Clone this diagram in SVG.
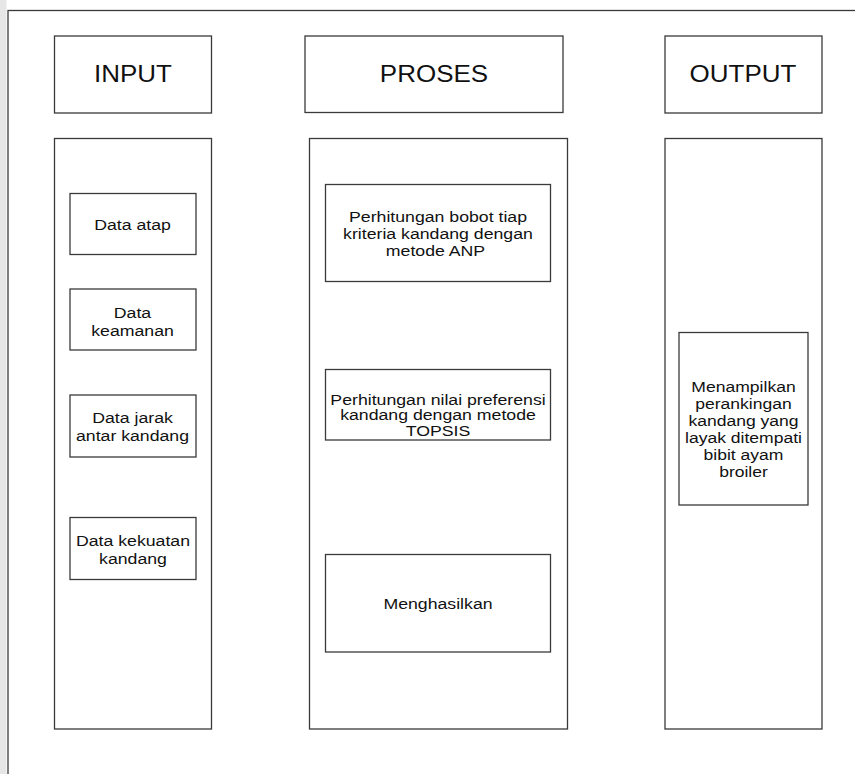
<svg xmlns="http://www.w3.org/2000/svg" width="855" height="774" viewBox="0 0 855 774">
  <style>
    .box { fill: #ffffff; stroke: #3a3a3a; stroke-width: 1.3; }
    .frame { fill: none; stroke: #3a3a3a; stroke-width: 1.3; }
    .hd { font-family: "Liberation Sans", Arial, sans-serif; font-size: 23px; fill: #111; text-anchor: middle; }
    .tx { font-family: "Liberation Sans", Arial, sans-serif; font-size: 15px; fill: #111; text-anchor: middle; }
  </style>
  <rect x="0" y="0" width="855" height="774" fill="#ffffff"/>
  <!-- faint strip along the left edge -->
  <rect x="0" y="0" width="6.5" height="774" fill="#e6e6e6"/>
  <!-- outer frame (continues past the right and bottom edges) -->
  <rect class="frame" x="8" y="10.5" width="860" height="780"/>

  <!-- INPUT column -->
  <g id="input-header">
    <rect class="box" x="54.5" y="36" width="157" height="77"/>
    <text class="hd" transform="matrix(1.13 0 0 1 133 81.5)">INPUT</text>
  </g>
  <g id="input-column">
    <rect class="box" x="54.5" y="138.5" width="157" height="590.5"/>
  </g>
  <g id="data-atap">
    <rect class="box" x="70" y="193.5" width="126" height="61"/>
    <text class="tx" transform="matrix(1.18 0 0 1 132.5 230)">Data atap</text>
  </g>
  <g id="data-keamanan">
    <rect class="box" x="70" y="289" width="126" height="61"/>
    <text class="tx" transform="matrix(1.18 0 0 1 132.5 317.5)">Data</text>
    <text class="tx" transform="matrix(1.18 0 0 1 132.5 335.5)">keamanan</text>
  </g>
  <g id="data-jarak">
    <rect class="box" x="70" y="395" width="126" height="62"/>
    <text class="tx" transform="matrix(1.18 0 0 1 132.5 422.5)">Data jarak</text>
    <text class="tx" transform="matrix(1.18 0 0 1 132.5 440.5)">antar kandang</text>
  </g>
  <g id="data-kekuatan">
    <rect class="box" x="70" y="517.5" width="126" height="62"/>
    <text class="tx" transform="matrix(1.18 0 0 1 133 545.5)">Data kekuatan</text>
    <text class="tx" transform="matrix(1.18 0 0 1 133 564)">kandang</text>
  </g>

  <!-- PROSES column -->
  <g id="proses-header">
    <rect class="box" x="305" y="36" width="258" height="76.5"/>
    <text class="hd" transform="matrix(1.13 0 0 1 434 81.5)">PROSES</text>
  </g>
  <g id="proses-column">
    <rect class="box" x="309.5" y="138.5" width="258" height="590.5"/>
  </g>
  <g id="anp">
    <rect class="box" x="325.5" y="184.5" width="225" height="97"/>
    <text class="tx" transform="matrix(1.18 0 0 1 438 221.5)">Perhitungan bobot tiap</text>
    <text class="tx" transform="matrix(1.18 0 0 1 438 238.5)">kriteria kandang dengan</text>
    <text class="tx" transform="matrix(1.18 0 0 1 435.5 255.5)">metode ANP</text>
  </g>
  <g id="topsis">
    <rect class="box" x="325.5" y="369.5" width="225" height="70.5"/>
    <text class="tx" transform="matrix(1.18 0 0 1 438 404.5)">Perhitungan nilai preferensi</text>
    <text class="tx" transform="matrix(1.18 0 0 1 438 420)">kandang dengan metode</text>
    <text class="tx" transform="matrix(1.18 0 0 1 438 435.5)">TOPSIS</text>
  </g>
  <g id="menghasilkan">
    <rect class="box" x="325.5" y="554.5" width="225" height="97.5"/>
    <text class="tx" transform="matrix(1.18 0 0 1 438 609)">Menghasilkan</text>
  </g>

  <!-- OUTPUT column -->
  <g id="output-header">
    <rect class="box" x="665" y="36" width="157" height="77"/>
    <text class="hd" transform="matrix(1.13 0 0 1 743 81.5)">OUTPUT</text>
  </g>
  <g id="output-column">
    <rect class="box" x="665" y="138.5" width="157" height="590.5"/>
  </g>
  <g id="ranking">
    <rect class="box" x="679" y="332.5" width="129" height="172.5"/>
    <text class="tx" transform="matrix(1.17 0 0 1 743.5 392)">Menampilkan</text>
    <text class="tx" transform="matrix(1.17 0 0 1 743.5 409)">perankingan</text>
    <text class="tx" transform="matrix(1.17 0 0 1 743.5 426)">kandang yang</text>
    <text class="tx" transform="matrix(1.17 0 0 1 743.5 443)">layak ditempati</text>
    <text class="tx" transform="matrix(1.17 0 0 1 743.5 460)">bibit ayam</text>
    <text class="tx" transform="matrix(1.17 0 0 1 743.5 477)">broiler</text>
  </g>

  <!-- no connectors between the blocks -->
  <g id="connectors"/>
</svg>
